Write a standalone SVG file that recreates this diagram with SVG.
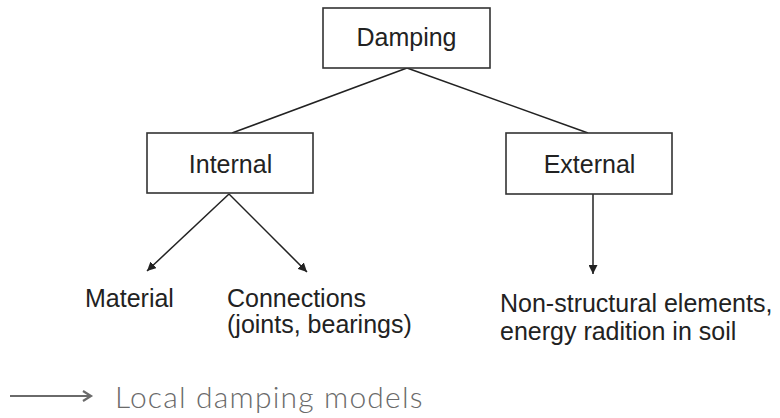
<svg xmlns="http://www.w3.org/2000/svg" width="780" height="418" viewBox="0 0 780 418">
<defs>
<style>
.box{fill:#fff;stroke:#333;stroke-width:1.6}
.ln{fill:none;stroke:#222;stroke-width:1.5}
.t{font-family:"Liberation Sans",Arial,sans-serif;font-size:25px;fill:#222}
.c{text-anchor:middle}
.lg{font-family:Lato,"Noto Sans",sans-serif;font-weight:300;font-size:30px;letter-spacing:1.2px;fill:#6a6a6a}
</style>
<marker id="ah" viewBox="0 0 10 10" refX="10" refY="5" markerWidth="9" markerHeight="9" markerUnits="userSpaceOnUse" orient="auto">
<path d="M0,0 L10,5 L0,10 Z" fill="#222"/>
</marker>
</defs>
<g id="connectors">
<line class="ln" x1="407" y1="68" x2="232" y2="133"/>
<line class="ln" x1="407" y1="68" x2="588" y2="133"/>
<line class="ln" x1="229" y1="194" x2="147" y2="271" marker-end="url(#ah)"/>
<line class="ln" x1="229" y1="194" x2="307" y2="272" marker-end="url(#ah)"/>
<line class="ln" x1="593" y1="194" x2="593" y2="274" marker-end="url(#ah)"/>
</g>
<g id="damping">
<rect class="box" x="323" y="8" width="167" height="60"/>
<text class="t c" x="406.5" y="46">Damping</text>
</g>
<g id="internal">
<rect class="box" x="147" y="133" width="166" height="60"/>
<text class="t c" x="230.5" y="173">Internal</text>
</g>
<g id="external">
<rect class="box" x="506" y="133" width="166" height="61"/>
<text class="t c" x="589.5" y="173">External</text>
</g>
<g id="material">
<text class="t" x="85" y="307">Material</text>
</g>
<g id="connections">
<text class="t" x="227" y="307">Connections</text>
<text class="t" x="227" y="333">(joints, bearings)</text>
</g>
<g id="nonstructural">
<text class="t" x="500" y="312">Non-structural elements,</text>
<text class="t" x="500" y="340">energy radition in soil</text>
</g>
<g id="legend">
<line x1="10" y1="396" x2="91" y2="396" stroke="#6a6a6a" stroke-width="2.2"/>
<path d="M83,391 L91,396 L83,401" fill="none" stroke="#6a6a6a" stroke-width="2.2"/>
<text class="lg" x="115" y="408">Local damping models</text>
</g>
</svg>
